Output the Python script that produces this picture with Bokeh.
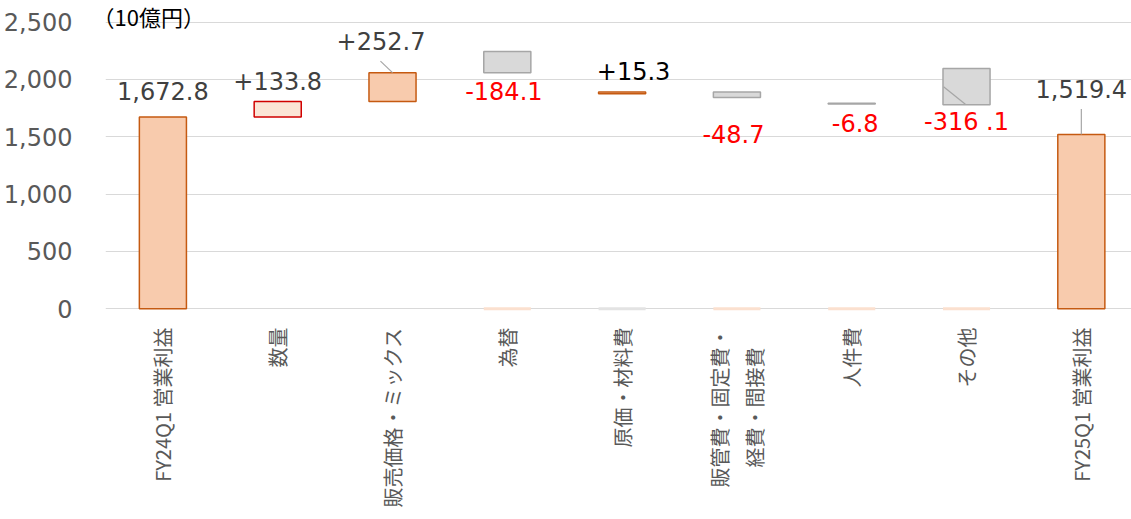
import math
from bokeh.plotting import figure
from bokeh.models import ColumnDataSource, Range1d, FixedTicker, NumeralTickFormatter, LabelSet, Label
from bokeh.core.properties import value
from bokeh.embed import file_html
from bokeh.resources import INLINE

# ---- data ----
categories = ["FY24Q1 営業利益", "数量", "販売価格・ミックス", "為替", "原価・材料費",
              "販管費・固定費・\n経費・間接費　", "人件費", "その他", "FY25Q1 営業利益"]
values = [1672.8, 133.8, 252.7, -184.1, 15.3, -48.7, -6.8, -316.1, 1519.4]
value_labels = ["1,672.8", "+133.8", "+252.7", "-184.1", "+15.3", "-48.7", "-6.8", "-316 .1", "1,519.4"]
# drawn box extents
bar_bottom = [0, 1672.8, 1806.6, 2059.3, 1875.2, 1841.8, 1786.6, 1779.0, 0]
bar_top = [1672.8, 1806.6, 2059.3, 2243.4, 1890.5, 1890.5, 1793.4, 2095.1, 1519.4]
bar_fill = ["#F8CBAD", "#FBE5D6", "#F8CBAD", "#D9D9D9", "#F8CBAD", "#D9D9D9", "#D9D9D9", "#D9D9D9", "#F8CBAD"]
bar_line = ["#C55A11", "#D00000", "#C55A11", "#A6A6A6", "#C55A11", "#A6A6A6", "#A6A6A6", "#A6A6A6", "#C55A11"]
# data label positions (value units) and colors
label_y = [1899, 1986, 2339, 1903, 2073, 1524, 1616, 1631, 1919]
label_dx = [0, 0, -0.1, -0.03, 0.1, -0.03, 0.03, 0, 0]
label_color = ["#404040", "#404040", "#404040", "#FF0000", "#000000", "#FF0000", "#FF0000", "#FF0000", "#404040"]
# faint zero-height bars at the baseline
stub_idx = [3, 4, 5, 6, 7]
stub_color = ["#FBE0CF", "#E3E3E3", "#FBE0CF", "#FBE0CF", "#FBE0CF"]
# leader lines: (category, start dx, start y, end dx, end y)
leader_cat = [2, 7, 8]
leader_dx0 = [-0.105, -0.2, 0]
leader_y0 = [2160, 1936, 1742]
leader_dx1 = [0, -0.01, 0]
leader_y1 = [2059.3, 1783, 1519.4]
unit_label = "（10億円）"
y_ticks = [0, 500, 1000, 1500, 2000, 2500]

xs = list(range(len(categories)))

p = figure(width=1131, height=517, output_backend="svg", toolbar_location=None,
           x_range=Range1d(-0.5, 8.437), y_range=Range1d(-25, 2689),
           min_border_left=0, min_border_right=0, min_border_top=0, min_border_bottom=206)
p.outline_line_color = None
p.background_fill_color = "white"
p.border_fill_color = "white"

# bars
src = ColumnDataSource(dict(x=xs, bottom=bar_bottom, top=bar_top, fill=bar_fill, line=bar_line))
p.vbar(x="x", width=0.41, bottom="bottom", top="top", source=src,
       fill_color="fill", line_color="line", line_width=1.5)

# baseline stubs
p.segment(x0=[xs[i] - 0.205 for i in stub_idx], y0=[0] * len(stub_idx),
          x1=[xs[i] + 0.205 for i in stub_idx], y1=[0] * len(stub_idx),
          line_color=stub_color, line_width=3)

# leader lines
p.segment(x0=[xs[c] + d for c, d in zip(leader_cat, leader_dx0)], y0=leader_y0,
          x1=[xs[c] + d for c, d in zip(leader_cat, leader_dx1)], y1=leader_y1,
          line_color="#A6A6A6", line_width=1.2)

# data labels
lsrc = ColumnDataSource(dict(x=[x + d for x, d in zip(xs, label_dx)], y=label_y,
                             text=value_labels, color=label_color))
p.add_layout(LabelSet(x="x", y="y", text="text", source=lsrc, text_color="color",
                      text_font=value("DejaVu Sans"), text_font_size="24px",
                      text_align="center", text_baseline="middle"))

# unit label
p.add_layout(Label(x=-0.613, y=2550, text=unit_label, text_color="#000000",
                   text_font="Noto Sans CJK JP", text_font_size="22px",
                   text_align="left", text_baseline="middle"))

# axes
p.yaxis.ticker = FixedTicker(ticks=y_ticks)
p.yaxis.formatter = NumeralTickFormatter(format="0,0")
p.yaxis.axis_line_color = None
p.yaxis.major_tick_line_color = None
p.yaxis.minor_tick_line_color = None
p.yaxis.major_tick_out = 0
p.yaxis.minor_tick_out = 0
p.yaxis.major_label_text_font = "DejaVu Sans"
p.yaxis.major_label_text_font_size = "24px"
p.yaxis.major_label_text_color = "#595959"
p.yaxis.major_label_standoff = 33

p.xaxis.ticker = FixedTicker(ticks=xs)
p.xaxis.major_label_overrides = {i: c for i, c in zip(xs, categories)}
p.xaxis.major_label_orientation = math.pi / 2
p.xaxis.axis_line_color = None
p.xaxis.major_tick_line_color = None
p.xaxis.minor_tick_line_color = None
p.xaxis.major_tick_out = 0
p.xaxis.minor_tick_out = 0
p.xaxis.major_label_text_font = "Noto Sans CJK JP"
p.xaxis.major_label_text_font_size = "20px"
p.xaxis.major_label_text_color = "#595959"
p.xaxis.major_label_standoff = 16

p.xgrid.grid_line_color = None
p.ygrid.grid_line_color = "#D9D9D9"
p.ygrid.grid_line_width = 1.2

open("out.html", "w").write(file_html(p, INLINE))
